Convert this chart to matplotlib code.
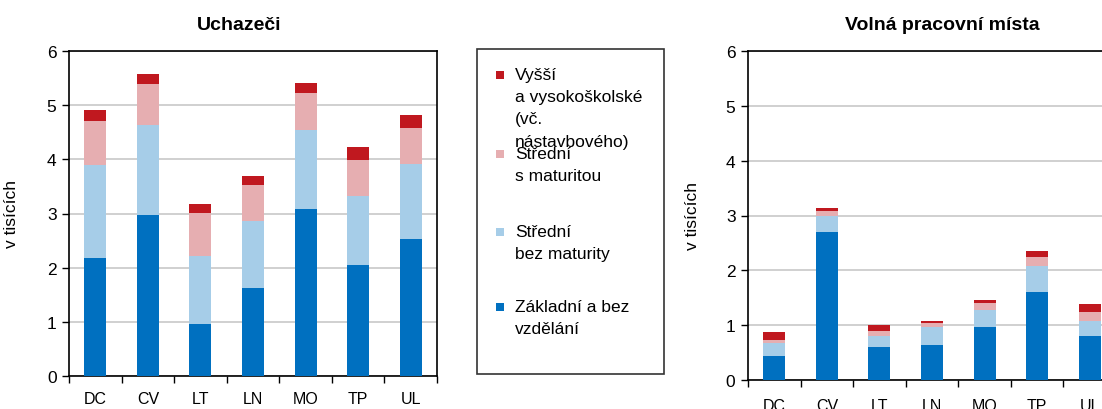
import numpy as np
import matplotlib.pyplot as plt
from matplotlib.patches import Rectangle

plt.rcParams['font.family'] = ['Liberation Sans', 'DejaVu Sans']

# data: cumulative tops of each stacked layer
regions = ['DC', 'CV', 'LT', 'LN', 'MO', 'TP', 'UL']

# Uchazeci
u_zakl = [2.17, 2.97, 0.96, 1.62, 3.09, 2.05, 2.53]
u_bez  = [3.90, 4.63, 2.21, 2.86, 4.55, 3.33, 3.92]
u_mat  = [4.70, 5.39, 3.01, 3.52, 5.23, 3.99, 4.57]
u_vys  = [4.91, 5.57, 3.18, 3.70, 5.41, 4.23, 4.82]

# Volna pracovni mista
v_zakl = [0.43, 2.69, 0.60, 0.63, 0.97, 1.60, 0.80]
v_bez  = [0.67, 3.00, 0.80, 0.97, 1.28, 2.07, 1.08]
v_mat  = [0.73, 3.09, 0.90, 1.04, 1.41, 2.24, 1.24]
v_vys  = [0.87, 3.14, 1.00, 1.08, 1.46, 2.35, 1.38]

labels = ['Základní a bez\nvzdělání', 'Střední\nbez maturity',
          'Střední\ns maturitou', 'Vyšší\na vysokoškolské\n(vč.\nnástavbového)']
colors = ['#0070c0', '#a6cde8', '#e6aeb1', '#c0181f']

W, H = 1102, 410
fig = plt.figure(figsize=(W / 100, H / 100), dpi=100)


def panel(rect, tops):
    ax = fig.add_axes(rect)
    x = np.arange(len(regions))
    prev = np.zeros(len(regions))
    for t, c in zip(tops, colors):
        t = np.array(t)
        ax.bar(x, t - prev, bottom=prev, width=0.42, color=c, zorder=3)
        prev = t
    ax.set_xlim(-0.5, len(regions) - 0.5)
    ax.set_ylim(0, 6)
    ax.set_yticks(range(7))
    ax.yaxis.grid(True, color='#c8c8c8', linewidth=1.2, zorder=0)
    # ticks between categories, labels centred under the bars
    ax.set_xticks(np.arange(-0.5, len(regions), 1.0))
    ax.set_xticklabels([])
    ax.set_xticks(x, minor=True)
    ax.set_xticklabels(regions, minor=True, fontsize=11.5)
    ax.tick_params(axis='x', which='minor', length=0, pad=11)
    ax.tick_params(axis='x', which='major', length=5, width=1, direction='out')
    ax.tick_params(axis='y', length=5, width=1, labelsize=12.5, pad=4)
    for s in ax.spines.values():
        s.set_linewidth(1.2)
    ax.set_ylabel('v tisících', fontsize=12.5)
    ax.yaxis.set_label_coords(-50 / 368, 0.5)
    return ax


# left panel: x 69..437, y 52..377
axL = panel([69 / W, 1 - 377 / H, 368 / W, 325 / H], [u_zakl, u_bez, u_mat, u_vys])
# right panel: x 748..1116 (cut by the figure edge), y 52..381
axR = panel([748 / W, 1 - 381 / H, 368 / W, 329 / H], [v_zakl, v_bez, v_mat, v_vys])
axR.yaxis.set_label_coords(-48 / 368, 0.5)
axR.tick_params(axis='x', which='minor', pad=13)

fig.text(239 / W, 1 - 25 / H, 'Uchazeči', ha='center', va='center', fontsize=14, fontweight='bold')
fig.text(942 / W, 1 - 25 / H, 'Volná pracovní místa', ha='center', va='center', fontsize=14, fontweight='bold')

# legend box drawn by hand (entries overlap in the original)
fig.patches.append(Rectangle((477 / W, 1 - 375 / H), 187 / W, 325 / H, transform=fig.transFigure,
                             fill=False, edgecolor='#333333', linewidth=1.2))
leg_y = [308, 233, 155, 76]
for lab, c, y in zip(labels, colors, leg_y):
    fig.patches.append(Rectangle((496 / W, 1 - (y + 4) / H), 8 / W, 8 / H, transform=fig.transFigure,
                                 facecolor=c, edgecolor='none'))
    fig.text(515 / W, 1 - (y - 8) / H, lab, ha='left', va='top', fontsize=12.5, linespacing=1.6)

fig.savefig('out.png', dpi=100)
